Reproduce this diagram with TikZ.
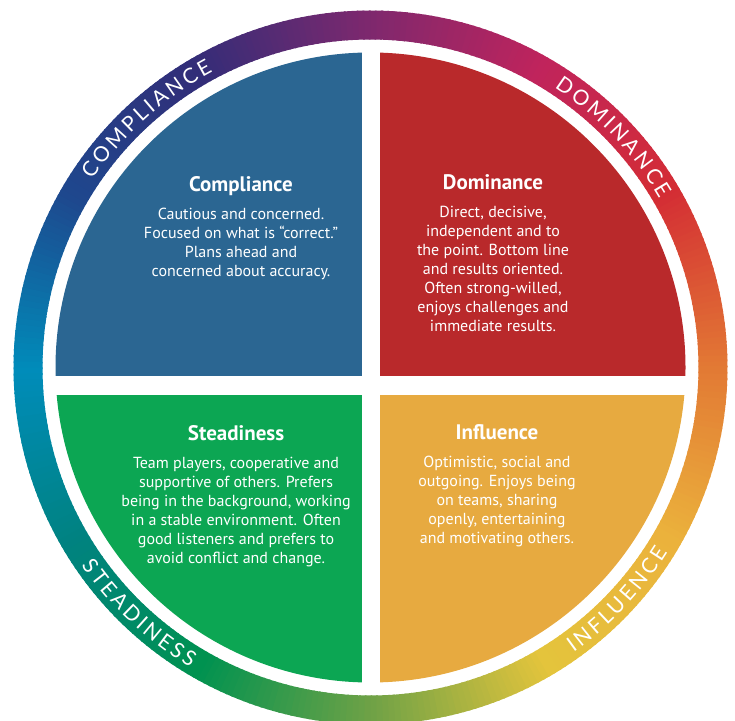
\documentclass[tikz,border=0pt]{standalone}
\usepackage{fontspec}
\setmainfont{PT Sans}
\newfontfamily\ringfont{Lato}
\usepackage{xcolor}
\definecolor{disc-blue}{RGB}{43,102,146}
\definecolor{disc-red}{RGB}{185,41,43}
\definecolor{disc-green}{RGB}{12,166,83}
\definecolor{disc-orange}{RGB}{231,170,64}
\definecolor{ring-0}{RGB}{226,120,52}
\definecolor{ring-30}{RGB}{212,45,52}
\definecolor{ring-60}{RGB}{192,36,92}
\definecolor{ring-90}{RGB}{125,40,110}
\definecolor{ring-120}{RGB}{50,45,120}
\definecolor{ring-150}{RGB}{30,72,142}
\definecolor{ring-180}{RGB}{0,140,186}
\definecolor{ring-210}{RGB}{0,130,128}
\definecolor{ring-240}{RGB}{0,146,80}
\definecolor{ring-270}{RGB}{112,162,70}
\definecolor{ring-300}{RGB}{228,196,60}
\definecolor{ring-330}{RGB}{235,178,60}
\usetikzlibrary{positioning,decorations.text}
\newcommand\ringgap{\hspace{3pt}}

\begin{document}
\begin{tikzpicture}[
    x=1pt, y=1pt,
    every node/.style={inner sep=0pt},
    quad title/.style={font=\fontsize{21}{23}\selectfont\bfseries, text=white, text height=15pt, text depth=4.5pt},
    quad text/.style={font=\fontsize{16}{19}\selectfont, text=white, align=center},
    ring label/.style={decorate, decoration={text along path, text align=center, text={#1}}}
]

\useasboundingbox (0,0) rectangle (735,720);
\clip (0,0) rectangle (735,720);
\coordinate (cen) at (370.5,352.5);

% Colour ring
\begin{scope}[shift={(cen)}]
\foreach \ca/\cb [count=\k from 0] in {ring-0/ring-30, ring-30/ring-60, ring-60/ring-90, ring-90/ring-120, ring-120/ring-150, ring-150/ring-180, ring-180/ring-210, ring-210/ring-240, ring-240/ring-270, ring-270/ring-300, ring-300/ring-330, ring-330/ring-0}{
    \foreach \s in {0,...,29}{
        \pgfmathtruncatemacro{\pct}{round(100*\s/30)}
        \pgfmathsetmacro{\a}{30*\k+\s}
        \fill[\cb!\pct!\ca] (\a:328) arc[start angle=\a, end angle=\a+1.3, radius=328] -- (\a+1.3:357) arc[start angle=\a+1.3, end angle=\a, radius=357] -- cycle;
    }
}

% Ring labels
\path[ring label={|\ringfont\fontsize{21}{21}\selectfont\color{white}|C{\ringgap}O{\ringgap}M{\ringgap}P{\ringgap}L{\ringgap}I{\ringgap}A{\ringgap}N{\ringgap}C{\ringgap}E}] (172:335) arc[start angle=172, end angle=92, radius=335];
\path[ring label={|\ringfont\fontsize{21}{21}\selectfont\color{white}|D{\ringgap}O{\ringgap}M{\ringgap}I{\ringgap}N{\ringgap}A{\ringgap}N{\ringgap}C{\ringgap}E}] (83.5:335) arc[start angle=83.5, end angle=3.5, radius=335];
\path[ring label={|\ringfont\fontsize{21}{21}\selectfont\color{white}|S{\ringgap}T{\ringgap}E{\ringgap}A{\ringgap}D{\ringgap}I{\ringgap}N{\ringgap}E{\ringgap}S{\ringgap}S}] (186.7:350) arc[start angle=186.7, end angle=266.7, radius=350];
\path[ring label={|\ringfont\fontsize{21}{21}\selectfont\color{white}|I{\ringgap}N{\ringgap}F{\ringgap}L{\ringgap}U{\ringgap}E{\ringgap}N{\ringgap}C{\ringgap}E}] (-83.2:350) arc[start angle=-83.2, end angle=-3.2, radius=350];
\end{scope}

% Quadrants
\begin{scope}
\clip (cen) circle[radius=315];
\fill[disc-blue] (0,344) rectangle (362,720);
\fill[disc-red] (380,344) rectangle (735,720);
\fill[disc-green] (0,0) rectangle (362,325);
\fill[disc-orange] (380,0) rectangle (735,325);
\end{scope}

% Quadrant texts
\node[quad title] (comp-title) at (241,534) {Compliance};
\node[quad text, below=12pt of comp-title] (comp-text) {Cautious and concerned.\\Focused on what is ``correct.''\\Plans ahead and\\concerned about accuracy.};

\node[quad title] (dom-title) at (493,536) {Dominance};
\node[quad text, below=12pt of dom-title] (dom-text) {Direct, decisive,\\independent and to\\the point. Bottom line\\and results oriented.\\Often strong-willed,\\enjoys challenges and\\immediate results.};

\node[quad title] (stead-title) at (236,285) {Steadiness};
\node[quad text, below=12pt of stead-title] (stead-text) {Team players, cooperative and\\supportive of others. Prefers\\being in the background, working\\in a stable environment. Often\\good listeners and prefers to\\avoid conflict and change.};

\node[quad title] (infl-title) at (497,286) {Influence};
\node[quad text, below=12pt of infl-title] (infl-text) {Optimistic, social and\\outgoing. Enjoys being\\on teams, sharing\\openly, entertaining\\and motivating others.};

\end{tikzpicture}
\end{document}
